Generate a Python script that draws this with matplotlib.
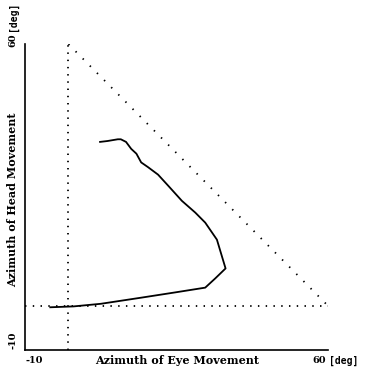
import numpy as np
from matplotlib import pyplot as plt

# trajectory: eye azimuth vs head azimuth [deg]
eye_az = [7.3, 9.0, 11.4, 12.1, 13.3, 14.5, 15.7, 16.8, 18.4, 20.7, 23.1, 26.2,
          29.3, 31.6, 34.3, 36.3, 33.9, 31.6, 24.6, 16.8, 7.5, 1.2, -4.2]
head_az = [37.6, 37.8, 38.2, 38.2, 37.6, 36.0, 34.9, 32.9, 31.8, 30.1, 27.5, 24.1,
           21.4, 19.1, 15.2, 8.6, 6.3, 4.2, 3.1, 1.9, 0.5, -0.1, -0.3]

x_range = [-10, 60]
y_range = [-10, 60]
x_tick_labels = ['-10', '60']
y_tick_labels = ['-10', '60']

font = {'family': 'DejaVu Serif', 'weight': 'bold'}
unit_font = {'family': 'DejaVu Sans Mono', 'weight': 'bold'}

fig = plt.figure(figsize=(3.65, 3.68), dpi=100)
ax = fig.add_axes([0.069, 0.05, 0.83, 0.83])

# reference lines
ax.plot([0, 0], y_range, color='black', lw=1.3, dashes=(0.8, 3.2))
ax.plot(x_range, [0, 0], color='black', lw=1.3, dashes=(0.8, 3.5))
ax.plot([0, 60], [60, 0], color='black', lw=1.3, dashes=(0.8, 4.8))

ax.plot(eye_az, head_az, color='black', lw=1.3)

ax.set_xlim(x_range)
ax.set_ylim(y_range)
ax.spines['top'].set_visible(False)
ax.spines['right'].set_visible(False)
ax.spines['left'].set_linewidth(1.2)
ax.spines['bottom'].set_linewidth(1.2)
ax.set_xticks([])
ax.set_yticks([])

yx = -0.037
ax.text(0.031, yx, x_tick_labels[0], transform=ax.transAxes, ha='center', va='center', fontsize=7, **font)
ax.text(0.97, yx, x_tick_labels[1], transform=ax.transAxes, ha='center', va='center', fontsize=7, **font)
ax.text(1.052, yx, '[deg]', transform=ax.transAxes, ha='center', va='center', fontsize=7, **unit_font)
ax.text(0.50, yx, 'Azimuth of Eye Movement', transform=ax.transAxes, ha='center', va='center', fontsize=8, **font)

xy = -0.04
ax.text(xy, 0.031, y_tick_labels[0], transform=ax.transAxes, ha='center', va='center', rotation=90, fontsize=7, **font)
ax.text(xy, 1.014, y_tick_labels[1], transform=ax.transAxes, ha='center', va='center', rotation=90, fontsize=7, **font)
ax.text(xy, 1.092, '[deg]', transform=ax.transAxes, ha='center', va='center', rotation=90, fontsize=7, **unit_font)
ax.text(xy, 0.49, 'Azimuth of Head Movement', transform=ax.transAxes, ha='center', va='center', rotation=90, fontsize=8, **font)

fig.savefig('out.png', dpi=100)
plt.close()
